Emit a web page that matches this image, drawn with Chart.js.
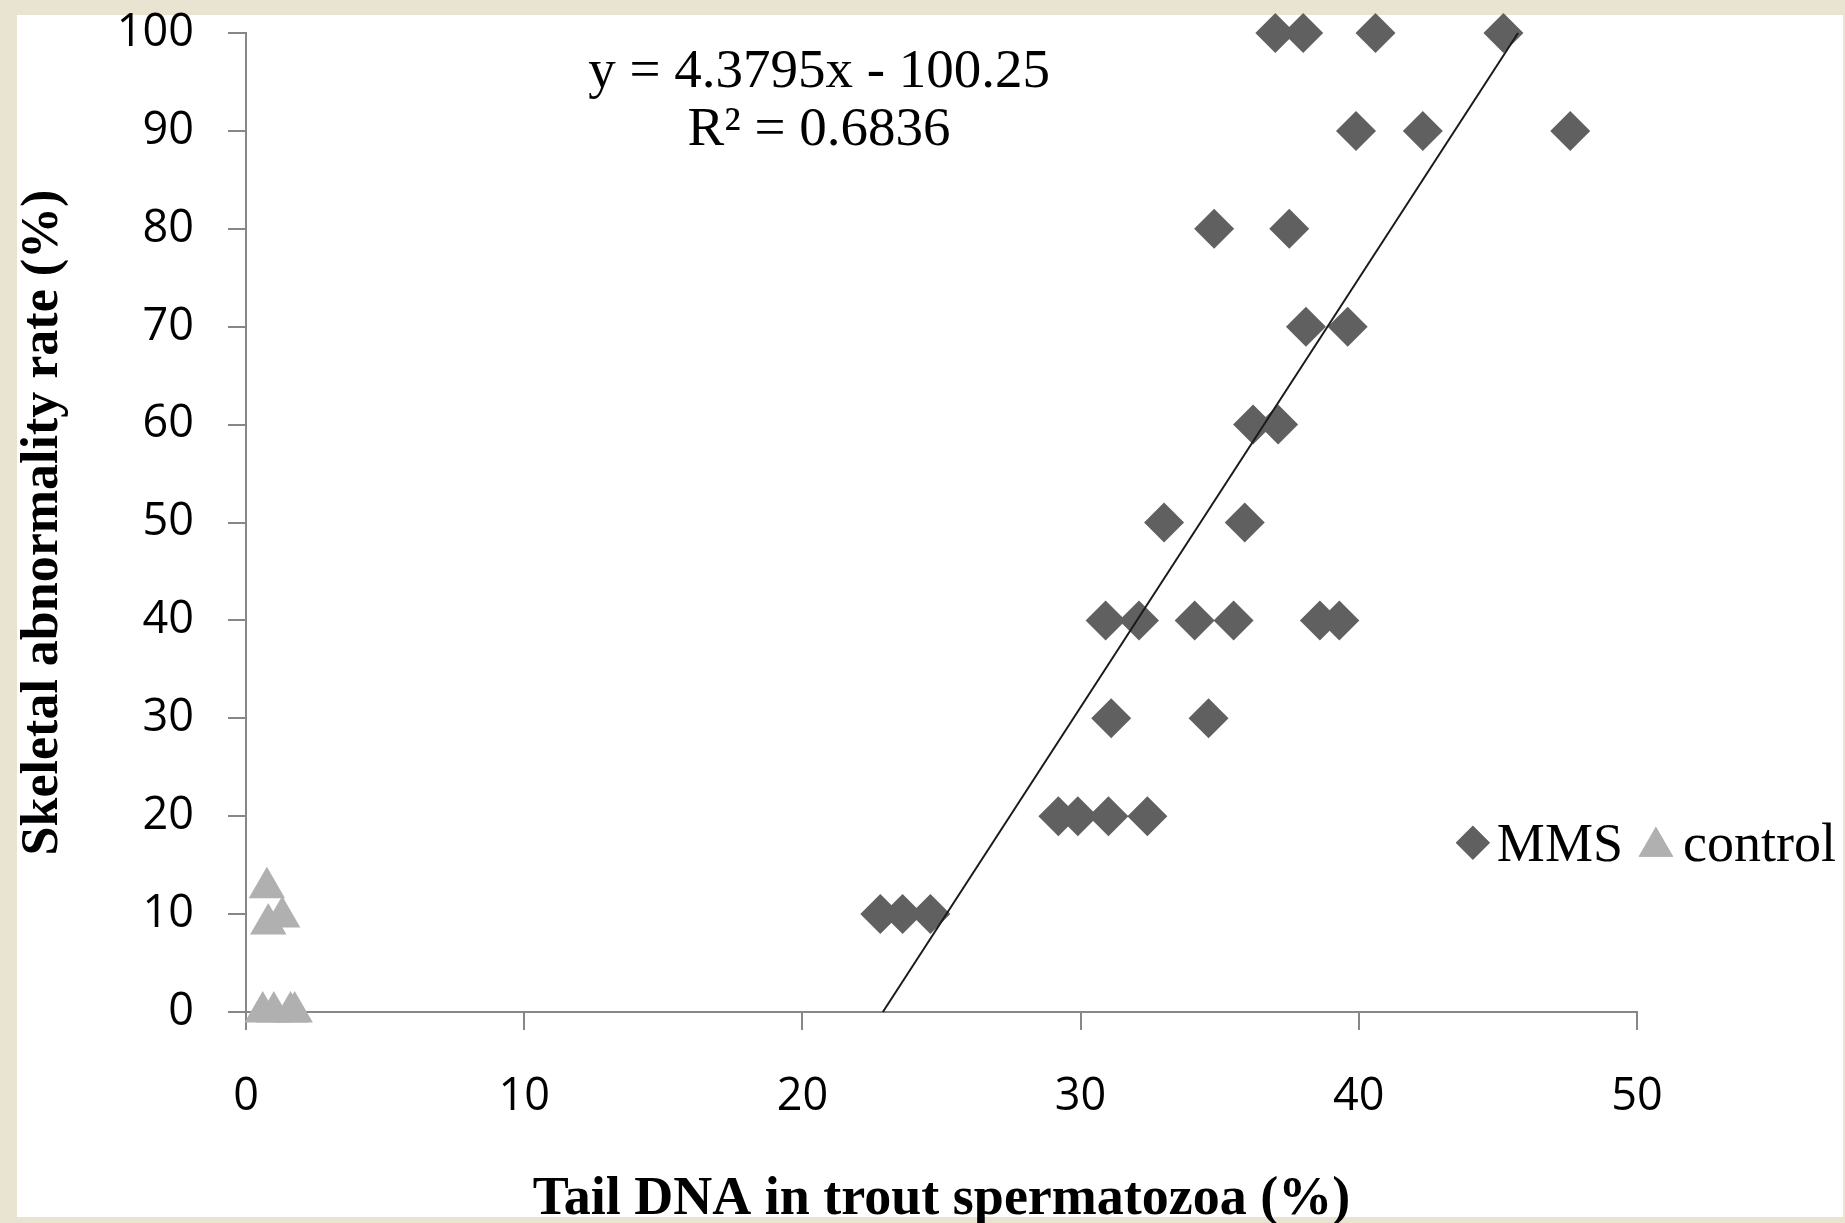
<!DOCTYPE html>
<html lang="en">
<head>
  <meta charset="UTF-8">
  <title>Skeletal abnormality vs tail DNA</title>
  <script src="https://cdn.jsdelivr.net/npm/chart.js"></script>
  <style>
    html, body { margin: 0; padding: 0; }
    body { width: 1845px; height: 1223px; background: #e9e3d2; position: relative; overflow: hidden; }
    .panel { position: absolute; left: 17px; top: 15px; width: 1826px; height: 1202px; background: #fff; }
    #chart { position: absolute; left: 0; top: 0; }
  </style>
</head>
<body>
  <div class="panel"></div>
  <canvas id="chart" width="1845" height="1223"></canvas>

  <script>
    // MMS group: tail DNA (%) and skeletal abnormality rate (%)
    var mmsX = [37.0, 38.0, 40.6, 45.2,
                39.9, 42.3, 47.6,
                34.8, 37.5,
                38.1, 39.6,
                36.2, 37.1,
                33.0, 35.9,
                30.9, 32.1, 34.1, 35.5, 38.6, 39.3,
                31.1, 34.6,
                29.2, 29.9, 31.0, 32.4,
                22.8, 23.6, 24.6];
    var mmsY = [100, 100, 100, 100,
                90, 90, 90,
                80, 80,
                70, 70,
                60, 60,
                50, 50,
                40, 40, 40, 40, 40, 40,
                30, 30,
                20, 20, 20, 20,
                10, 10, 10];

    // control group
    var ctrlX = [0.6, 1.0, 1.6, 1.75, 0.75, 1.3, 0.8];
    var ctrlY = [0, 0, 0, 0, 12.7, 9.7, 9.0];

    // linear trend of MMS: y = 4.3795x - 100.25
    var slope = 4.3795;
    var intercept = -100.25;
    var trendY = [0, 100];

    var xTicks = [0, 10, 20, 30, 40, 50];
    var yTicks = [0, 10, 20, 30, 40, 50, 60, 70, 80, 90, 100];

    var eqLines = ['y = 4.3795x - 100.25', 'R\u00b2 = 0.6836'];

    function toPoints(xs, ys) {
      var pts = [];
      for (var i = 0; i < xs.length; i++) pts.push({x: xs[i], y: ys[i]});
      return pts;
    }

    var trendPts = trendY.map(function(v) { return {x: (v - intercept) / slope, y: v}; });

    var serif = '"Liberation Serif", "Times New Roman", serif';
    var sans = '"Open Sans", "Noto Sans", sans-serif';

    var overlay = {
      id: 'overlay',
      afterDatasetsDraw: function(chart) {
        var ctx = chart.ctx;
        var xs = chart.scales.x, ys = chart.scales.y;
        ctx.save();
        ctx.fillStyle = '#000';
        ctx.font = '55px ' + serif;
        ctx.textAlign = 'center';
        ctx.textBaseline = 'middle';
        var ex = xs.getPixelForValue(20.6);
        ctx.fillText(eqLines[0], ex, ys.getPixelForValue(96));
        ctx.fillText(eqLines[1], ex, ys.getPixelForValue(90));

        // legend
        var lx = xs.getPixelForValue(44.1);
        var ly = ys.getPixelForValue(17.3);
        var ds = chart.data.datasets;
        ctx.font = '54px ' + serif;
        ctx.textAlign = 'left';
        ctx.textBaseline = 'alphabetic';
        ctx.fillStyle = ds[0].backgroundColor;
        Chart.helpers.drawPoint(ctx, {pointStyle: 'rectRot', radius: 17, rotation: 0, borderWidth: 0}, lx, ly);
        ctx.fill();
        ctx.fillStyle = '#000';
        ctx.fillText(ds[0].label, lx + 24, ly + 18);
        var tx = lx + 24 + ctx.measureText(ds[0].label).width + 33;
        ctx.fillStyle = ds[1].backgroundColor;
        Chart.helpers.drawPoint(ctx, {pointStyle: 'triangle', radius: 20, rotation: 0, borderWidth: 0}, tx, ly + 4);
        ctx.fill();
        ctx.fillStyle = '#000';
        ctx.fillText(ds[1].label, tx + 27, ly + 18);
        ctx.restore();
      }
    };

    new Chart(document.getElementById('chart'), {
      type: 'scatter',
      data: {
        datasets: [{
          label: 'MMS',
          data: toPoints(mmsX, mmsY),
          pointStyle: 'rectRot',
          pointRadius: 20,
          pointHoverRadius: 20,
          backgroundColor: '#606060',
          borderWidth: 0,
          order: 2
        }, {
          label: 'control',
          data: toPoints(ctrlX, ctrlY),
          pointStyle: 'triangle',
          pointRadius: 21,
          pointHoverRadius: 21,
          backgroundColor: '#b0b0b0',
          borderWidth: 0,
          order: 3
        }, {
          label: 'trend',
          type: 'line',
          data: trendPts,
          borderColor: '#1a1a1a',
          borderWidth: 2,
          pointRadius: 0,
          fill: false,
          order: 1
        }]
      },
      options: {
        responsive: false,
        animation: false,
        clip: false,
        layout: { padding: { top: 33, right: 208, left: 0, bottom: 0 } },
        plugins: {
          legend: { display: false },
          tooltip: { enabled: false }
        },
        scales: {
          x: {
            type: 'linear',
            min: 0,
            max: 50,
            afterBuildTicks: function(scale) { scale.ticks = xTicks.map(function(v) { return {value: v}; }); },
            afterFit: function(scale) {
              scale.height = 211;
              scale.paddingLeft = 0;
              scale.paddingRight = 0;
            },
            border: { color: '#878787', width: 2 },
            grid: { drawOnChartArea: false, drawTicks: true, tickLength: 18, color: '#878787', lineWidth: 2 },
            ticks: { color: '#000', padding: 40, maxRotation: 0, font: { family: sans, size: 45 } },
            title: {
              display: true,
              text: 'Tail DNA in trout spermatozoa (%)',
              color: '#000',
              font: { family: serif, size: 54, weight: 'bold', lineHeight: 0.85 },
              padding: { top: 0, bottom: 0 }
            }
          },
          y: {
            type: 'linear',
            min: 0,
            max: 100,
            afterBuildTicks: function(scale) { scale.ticks = yTicks.map(function(v) { return {value: v}; }); },
            afterFit: function(scale) {
              scale.width = 246;
              scale.paddingTop = 0;
              scale.paddingBottom = 0;
            },
            border: { color: '#878787', width: 2 },
            grid: { drawOnChartArea: false, drawTicks: true, tickLength: 18, color: '#878787', lineWidth: 2 },
            ticks: { color: '#000', padding: 34, font: { family: sans, size: 45 } },
            title: {
              display: true,
              text: 'Skeletal abnormality rate (%)',
              color: '#000',
              font: { family: serif, size: 52, weight: 'bold', lineHeight: 1 },
              padding: { top: 18, bottom: 0 }
            }
          }
        }
      },
      plugins: [overlay]
    });
  </script>
</body>
</html>
